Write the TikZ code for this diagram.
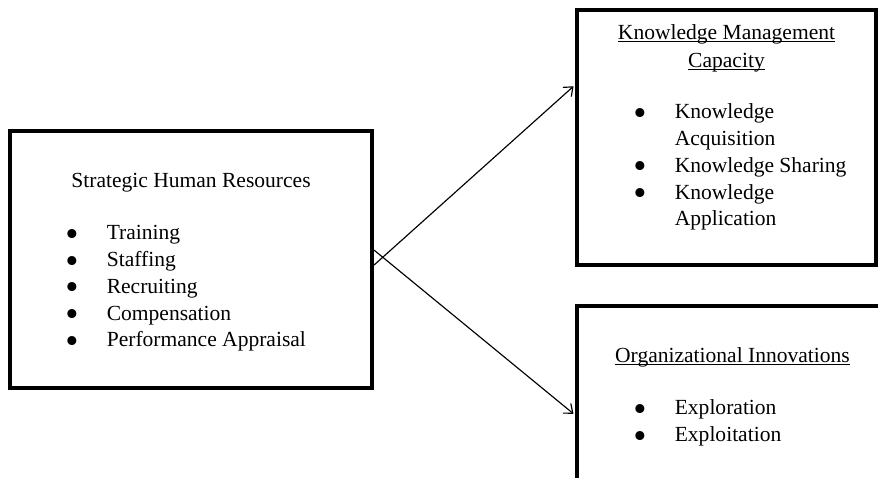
\documentclass[tikz,border=0pt]{standalone}
\usepackage{fontspec}
\setmainfont{Liberation Serif}
\usetikzlibrary{arrows.meta}
\newcommand{\unitpx}{0.52pt}
\newcommand{\widthbullet}{20.5pt}
\newcommand{\stepline}{26.7}
\newcommand{\bigdot}{\hspace*{-1.1pt}\raisebox{-3.4pt}[0pt][0pt]{\scalebox{1.75}{\textbullet}}}
\newcommand{\itm}[1]{\makebox[\widthbullet][l]{\bigdot}#1}
\newcommand{\itmmore}[1]{\hspace*{\widthbullet}#1}
\newcommand{\ulined}[1]{\setbox0=\hbox{#1}\rlap{\rule[-1.1pt]{\wd0}{0.5pt}}\box0}
\tikzset{
    txt/.style={font=\fontsize{11.2}{13.9}\selectfont, inner sep=0pt},
    frame/.style={draw, rectangle, line width=2.1pt, inner sep=0pt},
    heading/.style={txt, anchor=base, align=center},
    item/.style={txt, anchor=base west},
    link/.style={-{Straight Barb[length=4pt, width=6.5pt]}, line width=0.6pt, shorten >=1pt}
}
\begin{document}
\begin{tikzpicture}[x=\unitpx, y=-\unitpx]
        \useasboundingbox (0,0) rectangle (878,478);
        \clip (0,0) rectangle (878,478);

        % boxes
        \node[frame, minimum width=362*\unitpx, minimum height=257*\unitpx] (shr) at (191,259.5) {};
        \node[frame, minimum width=299*\unitpx, minimum height=255*\unitpx] (kmc) at (726.5,137.5) {};
        \node[frame, minimum width=310*\unitpx, minimum height=218*\unitpx] (org) at (732,415) {};

        % strategic human resources
        \node[heading] (shr-title) at (191,188) {Strategic Human Resources};
        \path (67,240) node[item] (shr-1) {\itm{Training}}
            to ++(0,\stepline) node[item] (shr-2) {\itm{Staffing}}
            to ++(0,\stepline) node[item] (shr-3) {\itm{Recruiting}}
            to ++(0,\stepline) node[item] (shr-4) {\itm{Compensation}}
            to ++(0,\stepline) node[item] (shr-5) {\itm{Performance Appraisal}};

        % knowledge management capacity (base = last line)
        \node[heading] (kmc-title) at (726.5,68) {\ulined{Knowledge Management}\\[0.7pt]\ulined{Capacity}};
        \path (635,119) node[item] (kmc-1) {\itm{Knowledge}}
            to ++(0,\stepline) node[item] (kmc-1b) {\itmmore{Acquisition}}
            to ++(0,\stepline) node[item] (kmc-2) {\itm{Knowledge Sharing}}
            to ++(0,\stepline) node[item] (kmc-3) {\itm{Knowledge}}
            to ++(0,\stepline) node[item] (kmc-3b) {\itmmore{Application}};

        % organizational innovations
        \node[heading] (org-title) at (732.5,363) {\ulined{Organizational Innovations}};
        \path (635,415) node[item] (org-1) {\itm{Exploration}}
            to ++(0,\stepline) node[item] (org-2) {\itm{Exploitation}};

        \draw[link] ([yshift=-2.9pt]shr.east) -- ([yshift=27.3pt]kmc.west);
        \draw[link] ([yshift=4.9pt]shr.east) -- (org.west);

    \end{tikzpicture}
\end{document}
